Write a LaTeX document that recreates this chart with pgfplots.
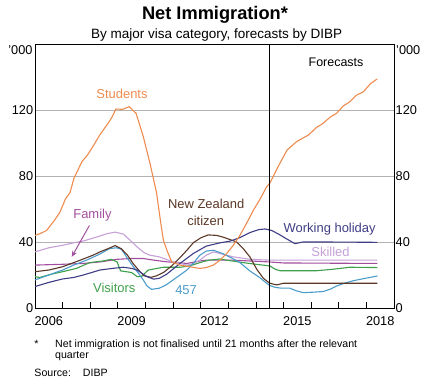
\documentclass[border=0pt]{standalone}
\usepackage{fontspec}
\setmainfont{Liberation Sans}
\usepackage{pgfplots}
\pgfplotsset{compat=1.18}
\usetikzlibrary{arrows.meta}

\definecolor{cStu}{HTML}{EE8B4E}
\definecolor{cNZ}{HTML}{5B3726}
\definecolor{cWH}{HTML}{3F3D85}
\definecolor{cSk}{HTML}{C6A0D6}
\definecolor{cFam}{HTML}{A24E9F}
\definecolor{cVis}{HTML}{3EA04A}
\definecolor{cFS}{HTML}{4B9CCB}

\begin{document}
\begin{tikzpicture}
\useasboundingbox (-35bp,-78bp) rectangle (393bp,308bp);
\begin{axis}[
  name=ax,
  at={(0,0)}, anchor=south west,
  scale only axis, width=359bp, height=264bp,
  xmin=2006, xmax=2019, ymin=0, ymax=160,
  xtick={2006.5,2009.5,2012.5,2015.5,2018.5},
  xticklabels={2006,2009,2012,2015,2018},
  minor xtick={2007,2008,...,2018},
  ytick={0,40,80,120},
  xtick pos=bottom, ytick pos=left,
  major tick length=0pt, minor tick length=6bp,
  tick align=inside,
  every tick/.style={black, line width=0.7bp},
  ymajorgrids,
  major grid style={line width=0.6bp, draw=black!30},
  axis line style={line width=0.8bp},
  /pgf/number format/assume math mode=true,
  tick label style={font=\fontsize{12.8}{14}\selectfont},
  xticklabel style={inner ysep=0pt, yshift=-8.5bp},
  yticklabel style={inner xsep=1.7bp},
  every axis plot/.append style={line width=1.1bp},
]
% Family
\addplot[cFam] coordinates {(2006.0,26) (2007.0,26.5) (2007.75,27) (2008.4,28) (2008.96,29.5) (2009.5,30) (2009.92,30) (2010.3,29) (2010.77,28) (2011.5,27) (2011.97,28.5) (2012.2,29) (2013.18,29) (2014.39,28) (2015,27.3) (2018.4,27)};
% Skilled
\addplot[cSk] coordinates {(2006.0,34) (2006.5,36.5) (2007.0,38) (2007.4,39.5) (2007.75,40.6) (2008.23,43) (2008.6,45) (2008.9,46) (2009.2,44.8) (2009.45,41) (2009.7,37) (2009.95,33.5) (2010.16,32) (2010.5,31) (2010.75,29.5) (2011.0,28) (2011.5,26) (2011.75,27) (2011.97,29) (2012.2,32) (2012.46,34) (2012.7,33) (2013.18,31) (2013.78,29.5) (2014.5,29) (2018.4,29)};
% Visitors
\addplot[cVis] coordinates {(2006.0,19) (2006.17,18.5) (2006.6,20.5) (2007.0,22) (2007.5,24) (2007.98,27.5) (2008.46,28.5) (2008.75,29.5) (2008.97,28) (2009.1,22.5) (2009.5,21.5) (2009.7,19) (2009.85,19) (2010.1,23) (2010.65,24.7) (2011.25,24.7) (2011.6,25.5) (2011.97,27.5) (2012.3,29) (2012.7,29.7) (2012.94,29) (2013.54,27.5) (2014.0,26.5) (2014.5,25.5) (2014.7,23.5) (2014.87,22.6) (2016.2,22.6) (2016.8,23.5) (2017.4,24.7) (2018.4,24.5)};
% 457
\addplot[cFS] coordinates {(2006.0,17) (2006.5,20) (2007.0,23) (2007.4,26) (2007.87,29) (2008.35,32.7) (2008.7,36) (2008.95,36.5) (2009.14,35.5) (2009.35,30) (2009.56,25) (2009.75,21) (2009.92,17) (2010.05,13.5) (2010.22,11.3) (2010.5,12) (2010.75,14) (2011.0,17) (2011.25,20) (2011.5,23) (2011.75,27.5) (2011.97,32) (2012.2,34.5) (2012.46,35) (2012.8,33) (2013.1,30.5) (2013.42,27.5) (2013.6,25) (2013.78,22.5) (2014.0,20) (2014.15,18.3) (2014.35,15.5) (2014.5,13.6) (2014.7,12.5) (2014.93,12) (2015.23,12) (2015.45,10.5) (2015.71,9.3) (2016.1,9.6) (2016.44,10) (2016.7,11.5) (2016.92,13.3) (2017.2,15) (2017.52,16.5) (2017.9,17.8) (2018.4,19.4)};
% NZ citizen
\addplot[cNZ] coordinates {(2006.0,22) (2006.5,23) (2007.0,25) (2007.4,27.5) (2007.75,29.7) (2008.1,32) (2008.35,34) (2008.65,36) (2008.9,37.8) (2009.12,36) (2009.35,32) (2009.55,27) (2009.75,23) (2009.95,19.5) (2010.2,18.6) (2010.4,19.5) (2010.65,21.5) (2010.95,25.5) (2011.25,30.5) (2011.5,35) (2011.73,39.5) (2012.0,42.5) (2012.27,44.3) (2012.58,44) (2012.8,43) (2013.06,41.5) (2013.3,40) (2013.54,36) (2013.78,31) (2014.03,23.5) (2014.27,18) (2014.5,15) (2014.75,14) (2015.0,15) (2018.4,15)};
% Working holiday
\addplot[cWH] coordinates {(2006.0,13) (2006.5,15.5) (2007.0,17.6) (2007.4,18.5) (2007.75,20) (2008.35,23) (2008.8,24) (2009.2,24.7) (2009.5,24) (2009.7,23) (2010.05,19) (2010.3,17.5) (2010.5,18) (2010.77,20.5) (2011.25,27) (2011.73,33) (2012.2,37.5) (2012.7,39.5) (2013.06,40.5) (2013.4,42.5) (2013.78,45.7) (2014.1,47.5) (2014.33,47.9) (2014.57,47) (2014.85,44.5) (2015.1,42) (2015.41,39) (2015.71,40) (2016.5,40) (2018.4,39.8)};
% Students
\addplot[cStu] coordinates {(2006.0,44) (2006.18,45) (2006.42,47) (2006.7,53) (2006.9,58) (2007.1,66) (2007.27,70) (2007.41,78.6) (2007.7,88.7) (2007.9,92.7) (2008.1,98) (2008.35,105) (2008.65,112) (2008.8,116) (2008.93,120.6) (2009.17,120.4) (2009.41,122) (2009.66,118) (2009.92,104) (2010.16,88) (2010.4,70) (2010.55,52) (2010.65,41) (2010.8,34) (2010.95,28) (2011.25,26) (2011.6,25) (2011.97,24) (2012.2,24.5) (2012.46,26) (2012.7,29) (2012.94,33) (2013.18,38) (2013.42,44) (2013.65,51) (2013.9,59) (2014.15,66) (2014.39,73.5) (2014.5,75.5) (2014.8,85.6) (2015.13,95.8) (2015.47,100.8) (2015.7,103) (2015.9,104.8) (2016.2,109.5) (2016.44,112) (2016.68,115.6) (2016.92,118) (2017.16,122.4) (2017.4,125) (2017.64,129) (2017.89,131) (2018.15,136) (2018.39,138.8)};
% forecast divider
\addplot[black, line width=0.8bp] coordinates {(2014.5,0) (2014.5,160)};

\begin{scope}[font=\fontsize{13}{15}\selectfont]
\node[cStu] at (axis cs:2009.15,129.7) {Students};
\node[cFam] at (axis cs:2008.08,56.4) {Family};
\draw[cFam, line width=1bp, -{Stealth[length=6bp,width=5bp]}] (axis cs:2007.97,50) -- (axis cs:2007.33,31);
\node[cNZ] at (axis cs:2012.2,63) {New Zealand};
\node[cNZ] at (axis cs:2012.18,52.7) {citizen};
\node[cWH] at (axis cs:2016.67,47.9) {Working holiday};
\node[cSk] at (axis cs:2016.7,34) {Skilled};
\node[cVis] at (axis cs:2008.87,12.5) {Visitors};
\node[cFS] at (axis cs:2011.47,11) {457};
\node[black, font=\fontsize{12.5}{14}\selectfont] at (axis cs:2016.9,148.7) {Forecasts};
\end{scope}
\end{axis}

\begin{axis}[
  at={(0,0)}, anchor=south west,
  scale only axis, width=359bp, height=264bp,
  xmin=2006, xmax=2019, ymin=0, ymax=160,
  axis x line=none, axis y line*=right,
  ytick={0,40,80,120},
  major tick length=0pt,
  axis line style={line width=0.8bp},
  /pgf/number format/assume math mode=true,
  tick label style={font=\fontsize{12.8}{14}\selectfont},
  yticklabel style={inner xsep=1.5bp},
]
\addplot[draw=none] coordinates {(2006,0) (2019,160)};
\end{axis}

\node[anchor=north east, inner sep=0pt, xshift=-2.3bp, yshift=-1bp, font=\fontsize{12.8}{14}\selectfont] at (ax.north west) {’000};
\node[anchor=north west, inner sep=0pt, xshift=2bp, yshift=-1bp, font=\fontsize{12.8}{14}\selectfont] at (ax.north east) {’000};

\node[anchor=base, inner sep=0pt, font=\bfseries\fontsize{18.3}{20}\selectfont] at (180bp,288.2bp) {Net Immigration*};
\node[anchor=base, inner sep=0pt, font=\fontsize{13.55}{15}\selectfont] at (181.7bp,269bp) {By major visa category, forecasts by DIBP};

\begin{scope}[font=\fontsize{10.65}{12}\selectfont]
\node[anchor=base west, inner sep=0pt] at (-0.7bp,-39bp) {*};
\node[anchor=base west, inner sep=0pt] at (20bp,-39bp) {Net immigration is not finalised until 21 months after the relevant};
\node[anchor=base west, inner sep=0pt] at (20bp,-50.3bp) {quarter};
\node[anchor=base west, inner sep=0pt] at (-0.7bp,-68bp) {Source:};
\node[anchor=base west, inner sep=0pt] at (47.7bp,-68bp) {DIBP};
\end{scope}
\end{tikzpicture}
\end{document}
